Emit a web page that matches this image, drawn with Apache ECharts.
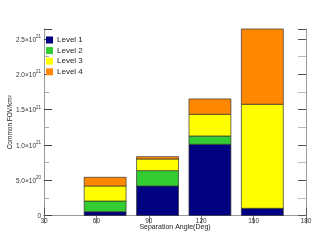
<!DOCTYPE html>
<html><head><meta charset="utf-8">
<script src="https://cdn.jsdelivr.net/npm/echarts@6/dist/echarts.min.js"></script>
<style>html,body{margin:0;padding:0;background:#fff}#c{width:332px;height:249px}</style>
</head><body><div id="c"></div>
<script>
var angles = [60, 90, 120, 150];
var level1 = [0.054e21, 0.418e21, 1.008e21, 0.102e21];
var level2 = [0.151e21, 0.217e21, 0.118e21, 0.0];
var level3 = [0.213e21, 0.165e21, 0.307e21, 1.473e21];
var level4 = [0.123e21, 0.033e21, 0.217e21, 1.065e21];
var levelNames = ['Level 1', 'Level 2', 'Level 3', 'Level 4'];
var colors = ['#000080', '#33cc33', '#ffff00', '#ff8800'];
var yTickMantissa = {5e20: '5.0', 1e21: '1.0', 1.5e21: '1.5', 2e21: '2.0', 2.5e21: '2.5'};
var yTickExp = {5e20: '20', 1e21: '21', 1.5e21: '21', 2e21: '21', 2.5e21: '21'};

var levels = [level1, level2, level3, level4];
var FONT = 'Liberation Sans';
var series = levels.map(function (vals, li) {
  var data = angles.map(function (a, i) {
    var base = 0;
    for (var k = 0; k < li; k++) base += levels[k][i];
    return [a, base, base + vals[i]];
  });
  return {
    type: 'custom',
    name: levelNames[li],
    itemStyle: {color: colors[li]},
    encode: {x: 0, y: [1, 2]},
    data: data,
    renderItem: function (params, api) {
      var x = api.value(0), y0 = api.value(1), y1 = api.value(2);
      var p0 = api.coord([x - 7, y0]);
      var p1 = api.coord([x + 17, y1]);
      return {
        type: 'rect',
        shape: {x: p0[0], y: p1[1], width: p1[0] - p0[0], height: p0[1] - p1[1]},
        style: {fill: colors[li], stroke: '#333', lineWidth: 0.7}
      };
    }
  };
});

var axisLineStyle = {lineStyle: {color: '#999', width: 1}};
var chart = echarts.init(document.getElementById('c'), null, {renderer: 'canvas'});
chart.setOption({
  animation: false,
  textStyle: {fontFamily: FONT},
  grid: {left: 44, top: 29, right: 26, bottom: 33.5, containLabel: false, outerBoundsMode: 'none'},
  legend: {
    orient: 'vertical', left: 46, top: 36, padding: 0,
    itemWidth: 7, itemHeight: 7, itemGap: 2.6,
    textStyle: {fontSize: 8, color: '#222', fontFamily: FONT, padding: [0, 0, 0, -1]},
    data: levelNames.map(function (n) { return {name: n, icon: 'rect'}; })
  },
  xAxis: [{
    type: 'value', min: 30, max: 180, interval: 30, position: 'bottom',
    name: 'Separation Angle(Deg)', nameLocation: 'middle', nameGap: 8, nameMoveOverlap: false,
    nameTextStyle: {fontSize: 7, color: '#222', fontFamily: FONT},
    axisLine: axisLineStyle,
    axisTick: {inside: true, length: 8, lineStyle: {color: '#555'}},
    axisLabel: {fontSize: 6.5, color: '#333', margin: 2, fontFamily: FONT},
    splitLine: {show: false}
  }, {
    type: 'value', min: 30, max: 180, interval: 30, position: 'top',
    axisLine: axisLineStyle,
    axisTick: {inside: true, length: 8, lineStyle: {color: '#777'}},
    axisLabel: {show: false}, splitLine: {show: false}
  }],
  yAxis: [{
    type: 'value', min: 0, max: 2.64e21, interval: 5e20, position: 'left',
    name: 'Common FOV/km²', nameLocation: 'middle', nameGap: 30, nameMoveOverlap: false,
    nameTextStyle: {fontSize: 6.5, color: '#222', fontFamily: FONT},
    axisLine: {show: true, lineStyle: {color: '#999'}},
    axisTick: {show: true, inside: true, length: 8, lineStyle: {color: '#444'}},
    minorTick: {show: true, splitNumber: 2, length: 5, lineStyle: {color: '#aaa'}},
    axisLabel: {color: '#333', margin: 3, fontFamily: FONT, showMaxLabel: false,
      formatter: function (v) {
        if (v === 0) return '{b|0}';
        if (yTickMantissa[v] === undefined) return '';
        return '{b|' + yTickMantissa[v] + '×10}{s|' + yTickExp[v] + '}';
      },
      rich: {
        b: {fontSize: 6.5, fontFamily: FONT, color: '#333', lineHeight: 9, verticalAlign: 'bottom'},
        s: {fontSize: 4.5, fontFamily: FONT, color: '#333', lineHeight: 9, verticalAlign: 'top'}
      }},
    splitLine: {show: false}
  }, {
    type: 'value', min: 0, max: 2.64e21, interval: 5e20, position: 'right',
    axisLine: {show: true, lineStyle: {color: '#999'}},
    axisTick: {show: true, inside: true, length: 8, lineStyle: {color: '#555'}},
    minorTick: {show: true, splitNumber: 2, length: 8, lineStyle: {color: '#bbb'}},
    axisLabel: {show: false}, splitLine: {show: false}
  }],
  series: series
});
</script></body></html>
